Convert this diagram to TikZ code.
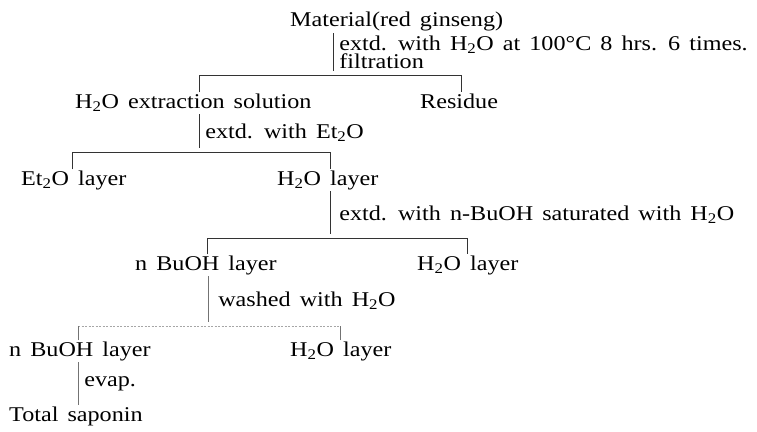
\documentclass[tikz,border=0pt]{standalone}
\usepackage{fontspec}
\setmainfont{Liberation Serif}[FakeStretch=1.15,WordSpace=1.5]
\usetikzlibrary{calc}
\newcommand\HHO{H\textsubscript{2}O}
\newcommand\EtEtO{Et\textsubscript{2}O}

\begin{document}
\begin{tikzpicture}[x=1pt,y=-1pt,font=\fontsize{21}{18}\selectfont,
    item/.style={inner sep=1pt,text height=14.5pt,text depth=5pt,anchor=base west},
    lab/.style={inner sep=1pt,anchor=west,align=left,xshift=5pt},
    link/.style={draw=black!80,line width=0.7pt},
    drop/.style={link,shorten >=4pt},
    dim/.style={draw=black!55,line width=0.6pt},
    faint/.style={draw=black!35,line width=0.6pt,dash pattern=on 2pt off 1.5pt}]
  \useasboundingbox (0,0) rectangle (757,431);

  % substances
  \node[item] (mat) at (289,27)  {Material(red ginseng)};
  \node[item] (sol) at (74,108)  {\HHO{} extraction solution};
  \node[item] (res) at (419,108) {Residue};
  \node[item] (eth) at (20,185)  {\EtEtO{} layer};
  \node[item] (aqa) at (276,185) {\HHO{} layer};
  \node[item] (bua) at (134,270) {n BuOH layer};
  \node[item] (aqb) at (416,270) {\HHO{} layer};
  \node[item] (bub) at (8,356)   {n BuOH layer};
  \node[item] (aqc) at (289,356) {\HHO{} layer};
  \node[item] (sap) at (8,421)   {Total saponin};

  % split points
  \coordinate (ja) at (333,75);
  \coordinate (jb) at (199,152);
  \coordinate (jc) at (330,238);
  \coordinate (jd) at (208,326);

  % step 1
  \draw[drop] (mat.south -| ja) -- node[lab,yshift=2pt]{extd. with \HHO{} at 100°C 8 hrs. 6 times.\\filtration} (ja);
  \draw[link] (sol.north -| 199,0) -- (199,75) -- (461,75) -- (res.north -| 461,0);

  % step 2
  \draw[drop] (sol.south -| jb) -- node[lab]{extd. with \EtEtO} (jb);
  \draw[link] (eth.north -| 72,0) -- (72,152) -- (330,152) -- (aqa.north -| 330,0);

  % step 3
  \draw[drop] (aqa.south -| jc) -- node[lab,xshift=3pt]{extd. with n-BuOH saturated with \HHO} (jc);
  \draw[link] (bua.north -| 207,0) -- (207,238) -- (467,238) -- (aqb.north -| 467,0);

  % step 4
  \draw[dim,shorten >=4pt] (bua.south -| jd) -- node[lab,xshift=4pt]{washed with \HHO} (jd);
  \draw[faint] (78,326) -- (340,326);
  \draw[dim] (bub.north -| 78,0) -- (78,326);
  \draw[dim] (aqc.north -| 340,0) -- (340,326);

  % step 5
  \draw[dim] (bub.south -| 78,0) -- node[lab]{evap.} (sap.north -| 78,0);
\end{tikzpicture}
\end{document}
